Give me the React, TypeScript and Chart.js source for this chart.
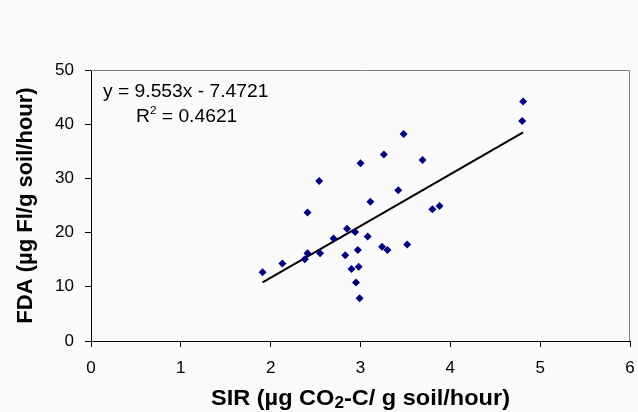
import React, { useEffect, useRef } from "react";
import { Chart, registerables } from "chart.js";

Chart.register(...registerables);

const sirValues = [3.48, 3.26, 3.0, 3.69, 2.54, 3.42, 3.11, 2.41, 3.8, 3.88, 2.85, 2.94, 2.7, 3.08, 2.13, 2.41, 2.38, 2.55, 2.83, 2.97, 3.24, 3.3, 3.52, 2.9, 2.98, 2.95, 2.99, 1.91, 4.81, 4.8];
const fdaValues = [38.2, 34.4, 32.8, 33.4, 29.5, 27.8, 25.7, 23.7, 24.3, 24.9, 20.7, 20.1, 18.9, 19.3, 14.3, 16.2, 15.1, 16.2, 15.8, 16.8, 17.4, 16.8, 17.8, 13.3, 13.7, 10.8, 7.9, 12.7, 44.2, 40.6];
const trendX = [1.91, 4.81];
const trendY = [10.8, 38.5];
const equationText = "y = 9.553x - 7.4721";
const r2Value = "0.4621";
const xTitleParts = ["SIR (µg CO", "2", "-C/ g soil/hour)"];
const yTitle = "FDA (µg Fl/g soil/hour)";

const FONT = "'Liberation Sans', Arial, sans-serif";

export default function App() {
  const ref = useRef<HTMLCanvasElement | null>(null);
  useEffect(() => {
    document.body.style.margin = "0";
    document.body.style.background = "#fafafa";
    const canvas = ref.current!;
    const annot = {
      id: "annot",
      beforeDraw(chart: any) {
        const c = chart.ctx;
        c.save();
        c.fillStyle = "#fafafa";
        c.fillRect(0, 0, chart.width, chart.height);
        c.restore();
      },
      afterDraw(chart: any) {
        const c = chart.ctx;
        const a = chart.chartArea;
        c.save();
        c.strokeStyle = "#808080";
        c.lineWidth = 1;
        c.beginPath();
        c.moveTo(a.left, a.top + 0.5);
        c.lineTo(a.right - 0.5, a.top + 0.5);
        c.lineTo(a.right - 0.5, a.bottom);
        c.stroke();

        c.fillStyle = "#000";
        c.textBaseline = "alphabetic";
        // equation
        c.textAlign = "left";
        c.font = `18px ${FONT}`;
        c.save();
        c.translate(103, 97);
        c.scale(1.07, 1);
        c.fillText(equationText, 0, 0);
        c.restore();
        c.save();
        c.translate(136, 122);
        c.scale(1.07, 1);
        c.fillText("R", 0, 0);
        const rw = c.measureText("R").width;
        c.font = `11px ${FONT}`;
        c.fillText("2", rw, -8);
        const sw = c.measureText("2").width;
        c.font = `18px ${FONT}`;
        c.fillText(" = " + r2Value, rw + sw, 0);
        c.restore();

        // x title
        c.font = `bold 22px ${FONT}`;
        const w0 = c.measureText(xTitleParts[0]).width;
        const w2 = c.measureText(xTitleParts[2]).width;
        c.font = `bold 16px ${FONT}`;
        const w1 = c.measureText(xTitleParts[1]).width;
        const sx = 1.07;
        const total = (w0 + w1 + w2) * sx;
        const cx = (a.left + a.right) / 2;
        c.save();
        c.translate(cx - total / 2, 405);
        c.scale(sx, 1);
        c.font = `bold 22px ${FONT}`;
        c.fillText(xTitleParts[0], 0, 0);
        c.font = `bold 16px ${FONT}`;
        c.fillText(xTitleParts[1], w0, 3);
        c.font = `bold 22px ${FONT}`;
        c.fillText(xTitleParts[2], w0 + w1, 0);
        c.restore();

        // y title
        c.save();
        c.translate(32, (a.top + a.bottom) / 2);
        c.rotate(-Math.PI / 2);
        c.textAlign = "center";
        c.font = `bold 22px ${FONT}`;
        c.fillText(yTitle, 0, 0);
        c.restore();
        c.restore();
      },
    };
    const chart = new Chart(canvas, {
      type: "scatter",
      data: {
        datasets: [
          {
            label: "data",
            data: sirValues.map((x, i) => ({ x, y: fdaValues[i] })),
            pointStyle: "rectRot",
            pointRadius: 4,
            backgroundColor: "#000080",
            borderColor: "#000080",
            borderWidth: 0,
          },
          {
            label: "trend",
            type: "line",
            data: trendX.map((x, i) => ({ x, y: trendY[i] })),
            borderColor: "#000",
            borderWidth: 2,
            pointRadius: 0,
            showLine: true,
          } as any,
        ],
      },
      options: {
        animation: false,
        responsive: false,
        layout: { padding: { top: 70, right: 8, left: 0, bottom: 0 } },
        plugins: { legend: { display: false }, tooltip: { enabled: false } },
        scales: {
          x: {
            type: "linear",
            min: 0,
            max: 6,
            ticks: { stepSize: 1, color: "#000", font: { size: 17, family: FONT }, padding: 11 },
            grid: { drawOnChartArea: false, drawTicks: true, tickLength: 6, color: "#000" },
            border: { color: "#000", width: 1 },
            title: { display: false },
            afterFit(scale: any) { scale.height = 71; scale.paddingRight = 0; scale.paddingLeft = 0; },
          },
          y: {
            type: "linear",
            min: 0,
            max: 50,
            ticks: { stepSize: 10, color: "#000", font: { size: 17, family: FONT }, padding: 11 },
            grid: { drawOnChartArea: false, drawTicks: true, tickLength: 6, color: "#000" },
            border: { color: "#000", width: 1 },
            title: { display: false },
            afterFit(scale: any) { scale.width = 91; scale.paddingTop = 0; scale.paddingBottom = 0; },
          },
        },
      } as any,
      plugins: [annot],
    });
    return () => chart.destroy();
  }, []);
  return (
    <div style={{ width: 638, height: 412, position: "relative" }}>
      <canvas ref={ref} width={638} height={412} style={{ display: "block", width: 638, height: 412 }} />
    </div>
  );
}
